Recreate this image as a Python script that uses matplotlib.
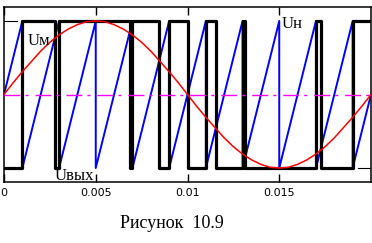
import matplotlib.pyplot as plt
import numpy as np

# time range of the plot, s
t_end = 0.02

# Uм - modulating sine (red), values read every 0.5 ms
sine_t = np.linspace(0, t_end, 41)
sine_u = [0.00, 0.16, 0.31, 0.45, 0.59, 0.71, 0.81, 0.89, 0.95, 0.99,
          1.00, 0.99, 0.95, 0.89, 0.81, 0.71, 0.59, 0.45, 0.31, 0.16,
          0.00, -0.16, -0.31, -0.45, -0.59, -0.71, -0.81, -0.89, -0.95, -0.99,
          -1.00, -0.99, -0.95, -0.89, -0.81, -0.71, -0.59, -0.45, -0.31, -0.16,
          0.00]

# Uн - sawtooth carrier (blue): reset instants, ramp from -1 up to +1
saw_reset_t = [0.001, 0.003, 0.005, 0.007, 0.009, 0.011, 0.013, 0.015, 0.017, 0.019]
saw_start = 0.0
saw_end = 0.0
saw_low, saw_high = -1.0, 1.0

# Uвых - PWM output (black): switching instants and level after each
pwm_t = [0, 0.001, 0.00276, 0.003, 0.00684, 0.007, 0.00845, 0.009, 0.0100,
         0.011, 0.01157, 0.013, 0.01315, 0.017, 0.01725, 0.019, 0.02]
pwm_u = [-1, 1, -1, 1, -1, 1, -1, 1, -1, 1, -1, 1, -1, 1, -1, 1, 1]

xticks = [0, 0.005, 0.01, 0.015]
xtick_labels = ['0', '0.005', '0.01', '0.015']

# build the sawtooth polyline from the reset points
saw_x = [0.0]
saw_y = [saw_start]
for r in saw_reset_t:
    saw_x += [r, r]
    saw_y += [saw_high, saw_low]
saw_x.append(t_end)
saw_y.append(saw_end)

fig = plt.figure(figsize=(3.72, 2.43), dpi=100)

# dotted page grid in the background
bg = fig.add_axes([0, 0, 1, 1], zorder=-5)
gx, gy = np.meshgrid(np.arange(2, 372, 6.2), np.arange(2, 243, 6.5))
bg.scatter(gx.ravel(), gy.ravel(), s=0.5, marker='s', color='#c2c2c2', linewidths=0)
bg.set_xlim(0, 372)
bg.set_ylim(243, 0)
bg.axis('off')

ax = fig.add_axes([4 / 372, 61 / 243, 367 / 372, 175 / 243])
ax.set_facecolor('none')

ax.plot(saw_x, saw_y, color='#0000ff', lw=1.4, zorder=2)
ax.step(pwm_t, pwm_u, where='post', color='black', lw=2.3, zorder=3)
ax.plot(sine_t, sine_u, color='#ff0000', lw=1.1, zorder=4)
ax.axhline(0, color='#ff00ff', lw=1.0, ls=(0, (11.5, 3.6, 2.2, 5)), zorder=5)

# small level markers at +1 (left) and -1 (right)
ax.axhline(1, xmin=0, xmax=13 / 367, color='black', lw=0.8)
ax.axhline(-1, xmin=1 - 13 / 367, xmax=1, color='black', lw=0.8)

ax.set_xlim(0, t_end)
ax.set_ylim(-1.19, 1.19)
ax.set_yticks([])
ax.set_xticks(xticks)
ax.set_xticklabels(xtick_labels, family=['Liberation Sans Narrow', 'DejaVu Sans'], fontsize=8)
ax.tick_params(axis='x', direction='in', top=True, length=6, width=1, pad=4)
for s in ax.spines.values():
    s.set_linewidth(1.1)

serif = ['Liberation Serif', 'DejaVu Serif']
ax.text(0.00131, 0.67, 'Uм', family=serif, fontsize=12, va='baseline', ha='left', zorder=6)
ax.text(0.01515, 0.90, 'Uн', family=serif, fontsize=12, va='baseline', ha='left', zorder=6)
ax.text(0.00278, -1.16, 'Uвых', family=serif, fontsize=12, va='baseline', ha='left', zorder=6)

fig.text(171.5 / 372, 15 / 243, 'Рисунок  10.9', family=serif, fontsize=13,
         ha='center', va='baseline')

fig.savefig('out.png', dpi=100)
